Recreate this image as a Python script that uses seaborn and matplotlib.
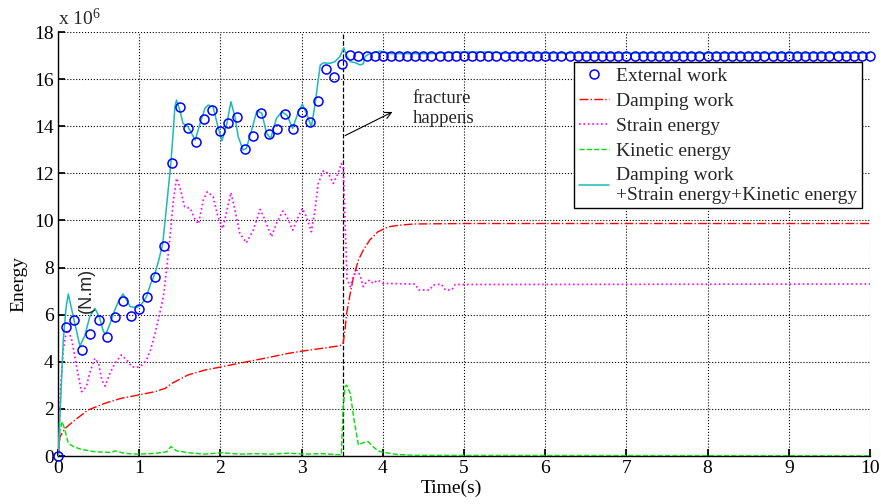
import numpy as np
import pandas as pd
import matplotlib
matplotlib.use("Agg")
import matplotlib.pyplot as plt
import seaborn as sns

# ---------------- data (energies in units of 1e6 N.m) ----------------
ext_time = list(np.round(np.linspace(0, 10, 101), 1))
ext_work = [0.0, 5.47, 5.77, 4.50, 5.18, 5.77, 5.05, 5.90, 6.58, 5.94,
            6.25, 6.76, 7.58, 8.91, 12.42, 14.80, 13.94, 13.31, 14.32, 14.69,
            13.81, 14.12, 14.40, 13.02, 13.58, 14.55, 13.67, 13.88, 14.50, 13.88,
            14.59, 14.17, 15.06, 16.41, 16.10, 16.64, 17.03, 17.0, 17.0, 17.0,
            17.0, 17.0, 17.0, 17.0, 17.0, 17.0, 17.0, 17.0, 17.0, 17.0,
            17.0, 17.0, 17.0, 17.0, 17.0, 17.0, 17.0, 17.0, 17.0, 17.0,
            17.0, 17.0, 17.0, 17.0, 17.0, 17.0, 17.0, 17.0, 17.0, 17.0,
            17.0, 17.0, 17.0, 17.0, 17.0, 17.0, 17.0, 17.0, 17.0, 17.0,
            17.0, 17.0, 17.0, 17.0, 17.0, 17.0, 17.0, 17.0, 17.0, 17.0,
            17.0, 17.0, 17.0, 17.0, 17.0, 17.0, 17.0, 17.0, 17.0, 17.0,
            17.0]

damp_time = [0, 0.025, 0.086, 0.21, 0.37, 0.58, 0.78, 0.99, 1.19, 1.32,
             1.40, 1.60, 1.81, 2.02, 2.22, 2.43, 2.63, 2.84, 3.04, 3.25,
             3.47, 3.51, 3.535, 3.555, 3.60, 3.64, 3.70, 3.76, 3.84, 3.94,
             4.07, 4.21, 4.38, 5.0, 10.0]
damp_work = [0, 0.82, 1.17, 1.53, 1.95, 2.24, 2.45, 2.59, 2.73, 2.87,
             3.08, 3.44, 3.65, 3.79, 3.93, 4.07, 4.21, 4.36, 4.47, 4.57,
             4.68, 4.75, 5.35, 6.06, 6.91, 7.61, 8.32, 8.74, 9.17, 9.52,
             9.73, 9.80, 9.85, 9.87, 9.87]

strain_time = [0, 0.01, 0.03, 0.065, 0.1, 0.127, 0.17, 0.23, 0.29, 0.35,
               0.39, 0.455, 0.50, 0.54, 0.58, 0.64, 0.70, 0.78, 0.85, 0.91,
               0.97, 1.03, 1.09, 1.14, 1.195, 1.25, 1.30, 1.34, 1.38, 1.42,
               1.46, 1.50, 1.56, 1.63, 1.69, 1.73, 1.79, 1.84, 1.91, 1.97,
               2.03, 2.10, 2.13, 2.18, 2.24, 2.32, 2.405, 2.49, 2.55, 2.63,
               2.69, 2.77, 2.82, 2.89, 2.96, 3.01, 3.06, 3.12, 3.165, 3.205,
               3.27, 3.33, 3.39, 3.45, 3.49, 3.515, 3.535, 3.56, 3.60, 3.64,
               3.68, 3.72, 3.76, 3.80, 3.84, 3.88, 3.94, 4.0, 4.40, 4.44,
               4.58, 4.62, 4.72, 4.77, 4.85, 4.89, 10.0]
strain_energy = [0, 0.1, 2.8, 4.5, 5.2, 5.35, 4.92, 3.79, 2.73, 2.94,
                 3.51, 4.15, 3.93, 3.23, 2.97, 3.51, 3.93, 4.29, 4.07, 3.79,
                 3.76, 3.85, 4.07, 4.5, 5.2, 6.0, 6.8, 8.0, 9.3, 10.8,
                 11.79, 11.43, 10.58, 10.51, 10.02, 9.85, 10.87, 11.22, 11.01, 10.16,
                 9.66, 10.73, 11.18, 10.44, 9.45, 9.05, 9.59, 10.47, 10.02, 9.31,
                 9.87, 10.40, 10.16, 9.59, 10.16, 10.51, 10.16, 9.52, 10.44, 11.57,
                 12.11, 12.0, 11.57, 12.0, 12.42, 12.2, 10.0, 7.5, 7.19, 7.61,
                 7.89, 7.68, 7.19, 7.40, 7.47, 7.33, 7.47, 7.33, 7.30, 7.05,
                 7.05, 7.26, 7.30, 7.05, 7.05, 7.28, 7.30]

kin_time = [0, 0.025, 0.053, 0.086, 0.127, 0.19, 0.29, 0.455, 0.66, 0.70,
            0.825, 0.99, 1.19, 1.34, 1.39, 1.46, 1.60, 1.81, 2.02, 2.22,
            2.43, 2.63, 2.84, 3.04, 3.25, 3.49, 3.51, 3.535, 3.555, 3.60,
            3.64, 3.70, 3.76, 3.82, 3.88, 3.94, 4.0, 4.17, 4.38, 10.0]
kin_energy = [0, 1.1, 1.46, 1.1, 0.54, 0.40, 0.28, 0.18, 0.15, 0.22,
              0.11, 0.08, 0.11, 0.18, 0.40, 0.22, 0.14, 0.08, 0.14, 0.08,
              0.10, 0.08, 0.12, 0.08, 0.10, 0.05, 1.95, 2.94, 3.01, 2.66,
              1.67, 0.47, 0.57, 0.61, 0.40, 0.22, 0.16, 0.07, 0.03, 0.01]

sum_time = [0, 0.03, 0.065, 0.1, 0.127, 0.19, 0.27, 0.33, 0.39, 0.455,
            0.51, 0.56, 0.59, 0.64, 0.70, 0.75, 0.80, 0.85, 0.89, 0.97,
            1.03, 1.09, 1.14, 1.195, 1.24, 1.29, 1.34, 1.39, 1.42, 1.44,
            1.46, 1.50, 1.54, 1.60, 1.645, 1.69, 1.75, 1.81, 1.85, 1.91,
            1.97, 2.02, 2.08, 2.13, 2.18, 2.22, 2.28, 2.32, 2.385, 2.45,
            2.51, 2.57, 2.62, 2.69, 2.755, 2.82, 2.89, 2.96, 3.01, 3.06,
            3.12, 3.165, 3.205, 3.23, 3.27, 3.35, 3.41, 3.47, 3.52, 3.555,
            3.60, 3.66, 3.72, 3.76, 3.78, 3.82, 3.92, 3.97, 4.1, 4.6,
            4.91, 5.32, 5.5, 10.0]
sum_energy = [0, 2.1, 4.9, 6.3, 6.88, 5.9, 4.67, 5.1, 5.9, 6.27,
              5.9, 5.28, 5.18, 5.6, 6.2, 6.6, 6.88, 6.6, 6.34, 6.3,
              6.45, 6.76, 7.3, 7.75, 8.3, 9.0, 10.7, 12.42, 13.8, 14.83,
              15.11, 14.69, 14.12, 13.98, 13.70, 13.41, 14.12, 14.76, 14.90, 14.83,
              13.98, 13.38, 14.12, 15.04, 14.40, 13.55, 12.99, 13.06, 13.84, 14.66,
              14.55, 13.70, 13.48, 14.33, 14.61, 14.47, 13.91, 14.61, 14.94, 14.55,
              13.98, 14.9, 15.96, 16.6, 16.69, 16.67, 16.74, 16.95, 17.33, 17.0,
              16.74, 16.7, 16.6, 16.65, 16.95, 17.05, 17.15, 17.19, 17.08, 17.08,
              17.15, 17.15, 17.1, 17.1]

fracture_time = 3.51
x_ticks = list(range(0, 11))
y_ticks = list(range(0, 19, 2))

# ---------------- style ----------------
sns.set_theme(style="white")
plt.rcParams["font.family"] = ["Liberation Serif", "DejaVu Serif"]
plt.rcParams["mathtext.fontset"] = "custom"
plt.rcParams["mathtext.rm"] = "Liberation Serif"
plt.rcParams["mathtext.it"] = "Liberation Serif:italic"

fig, ax = plt.subplots(figsize=(8.81, 5.04), dpi=100)
fig.subplots_adjust(left=0.0658, right=0.9875, bottom=0.0952, top=0.9365)

sns.lineplot(x=ext_time, y=ext_work, ax=ax, label="External work",
             marker="o", linestyle="", markersize=6.5,
             markerfacecolor="none", markeredgecolor="#0000ff",
             markeredgewidth=1.1, color="#0000ff", zorder=4, clip_on=False)
sns.lineplot(x=damp_time, y=damp_work, ax=ax, label="Damping work",
             color="#ff0000", linestyle="-.", linewidth=1.0, zorder=3)
sns.lineplot(x=strain_time, y=strain_energy, ax=ax, label="Strain energy",
             color="#ff00ff", linestyle=":", linewidth=1.2, zorder=3)
sns.lineplot(x=kin_time, y=kin_energy, ax=ax, label="Kinetic energy",
             color="#00e000", linestyle="--", linewidth=1.0, zorder=3)
sns.lineplot(x=sum_time, y=sum_energy, ax=ax,
             label="Damping work\n+Strain energy+Kinetic energy",
             color="#1fb8b8", linestyle="-", linewidth=1.1, zorder=3)

ax.axvline(fracture_time, color="black", linestyle="--", linewidth=0.9, zorder=2)

ax.set_xlim(0, 10)
ax.set_ylim(0, 18)
ax.set_xticks(x_ticks)
ax.set_yticks(y_ticks)
ax.grid(True, color="black", linestyle=":", linewidth=0.8)
ax.tick_params(direction="in", length=5, labelsize=14, pad=3,
               left=True, bottom=True, colors="black")
for s in ["top", "right"]:
    ax.spines[s].set_visible(False)
for s in ["left", "bottom"]:
    ax.spines[s].set_color("black")
    ax.spines[s].set_linewidth(1.0)

ax.set_xlabel("Time(s)", fontsize=14, color="black")
ax.xaxis.set_label_coords(0.485, -0.055)
ax.xaxis.label.set_va("top")
ax.set_ylabel("Energy", fontsize=14, color="black")
ax.yaxis.set_label_coords(-0.038, 0.405)

ax.text(0.0, 1.008, r"x 10$^{6}$", transform=ax.transAxes,
        ha="left", va="bottom", fontsize=14)
ax.text(0.345, 7.05, "(N.m)", rotation=90, ha="center", va="center",
        fontsize=13, family="Liberation Sans", zorder=5)

ax.annotate("", xy=(4.15, 14.66), xytext=(3.506, 13.55),
            arrowprops=dict(arrowstyle="->", color="black", lw=0.8))
ax.text(4.37, 14.75, "fracture\nhappens", ha="left", va="center",
        fontsize=13.5)

handles, labels = ax.get_legend_handles_labels()
leg = ax.legend(handles, labels, loc="upper right",
                bbox_to_anchor=(0.99, 0.929), borderaxespad=0,
                frameon=True, fancybox=False, edgecolor="black",
                framealpha=1, fontsize=14, labelspacing=0.38,
                handlelength=1.55, handletextpad=0.35, borderpad=0.25,
                numpoints=1)
leg.get_frame().set_linewidth(1.0)

fig.savefig("out.png", dpi=100)
